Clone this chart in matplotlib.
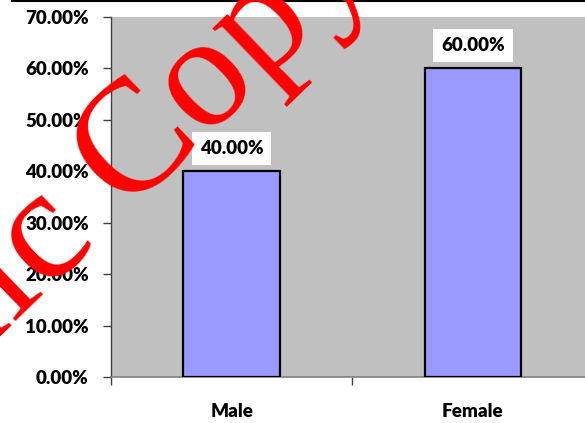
import matplotlib
matplotlib.use("Agg")
import matplotlib.pyplot as plt
from matplotlib.lines import Line2D
from matplotlib.ticker import FixedLocator, PercentFormatter

categories = ["Male", "Female"]
values = [40.0, 60.0]
yticks = [0, 10, 20, 30, 40, 50, 60, 70]

W, H = 585, 423
fig = plt.figure(figsize=(W / 100, H / 100), dpi=100)
fig.patch.set_facecolor("white")

ax = fig.add_axes([111 / W, 1 - 377 / H, 1 - 111 / W + 0.001, (377 - 17) / H])
ax.set_facecolor("#C0C0C0")

x = list(range(len(categories)))
ax.bar(x, values, width=0.4, color="#9999FF", edgecolor="black", linewidth=1.6, zorder=3)

ax.set_xlim(-0.5, 1.467)
ax.set_ylim(0, 70)
ax.set_yticks(yticks)
ax.yaxis.set_major_formatter(PercentFormatter(decimals=2))

font = "Lato"
FS = 13.5
WT = "heavy"
for lab in ax.get_yticklabels():
    lab.set_fontfamily(font)
    lab.set_fontweight(WT)
    lab.set_fontsize(FS)
ax.tick_params(axis="y", direction="out", length=6, width=1, color="#404040", pad=10)

ax.set_xticks(x)
ax.set_xticklabels(categories, fontfamily=font, fontweight=WT, fontsize=FS)
ax.tick_params(axis="x", which="major", length=0, pad=19)
ax.xaxis.set_minor_locator(FixedLocator([-0.5, 0.5, 1.5]))
ax.tick_params(axis="x", which="minor", direction="out", length=6, width=1, color="#404040")

for s in ["top", "right"]:
    ax.spines[s].set_visible(False)
ax.spines["left"].set_color("#404040")
ax.spines["bottom"].set_color("#808080")
ax.spines["left"].set_linewidth(1)
ax.spines["bottom"].set_linewidth(1.2)

for xi, v in zip(x, values):
    ax.annotate(f"{v:.2f}%", (xi, v), xytext=(0, 16.5), textcoords="offset points",
                ha="center", va="center", fontfamily=font, fontweight=WT, fontsize=FS,
                bbox=dict(boxstyle="square,pad=0.42", facecolor="white", edgecolor="none"),
                zorder=5)

# top border line
fig.add_artist(Line2D([12 / W, 1], [1 - 0.8 / H, 1 - 0.8 / H], color="black", linewidth=1.5,
                      transform=fig.transFigure))

# watermark
fig.text(378 / W, 1 + 28 / H, "Electronic Copy", rotation=44, rotation_mode="anchor",
         ha="right", va="baseline", color="red", fontsize=116, fontfamily="Liberation Serif",
         zorder=10)

fig.savefig("out.png", dpi=100)
